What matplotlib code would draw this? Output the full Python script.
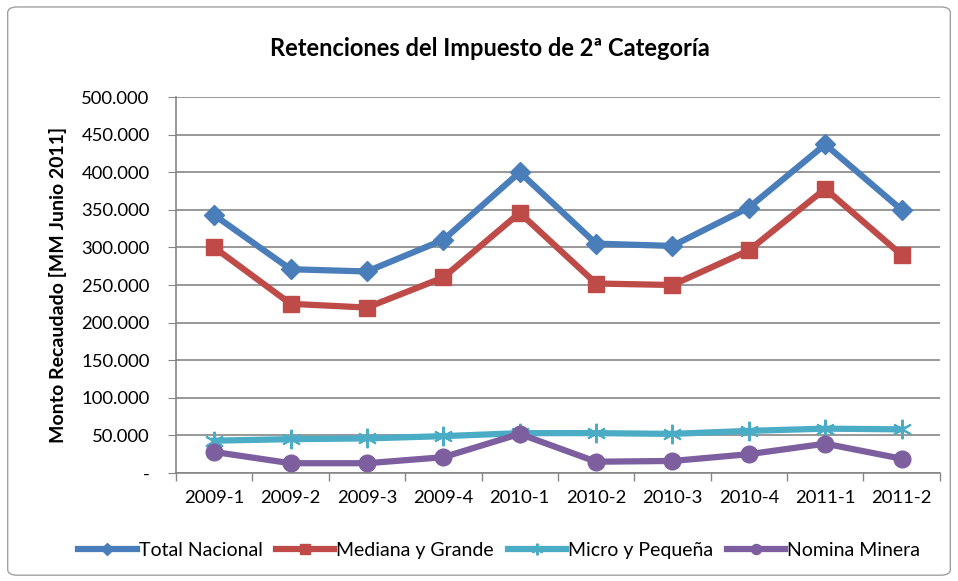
import matplotlib
matplotlib.use("Agg")
import matplotlib.pyplot as plt
from matplotlib.patches import FancyBboxPatch
from matplotlib.ticker import FuncFormatter

categories = ["2009-1", "2009-2", "2009-3", "2009-4", "2010-1", "2010-2", "2010-3", "2010-4", "2011-1", "2011-2"]
total_nacional = [343, 271, 268, 310, 400, 305, 302, 353, 437, 350]
mediana_grande = [300, 225, 220, 260, 346, 252, 250, 296, 378, 290]
micro_pequena = [43, 45, 46, 49, 53, 53, 52, 56, 59, 58]
nomina_minera = [28, 13, 13, 21, 52, 15, 16, 25, 39, 19]

plt.rcParams['font.family'] = ['Lato', 'DejaVu Sans']

fig = plt.figure(figsize=(9.58, 5.81), dpi=100)
fig.patches.append(FancyBboxPatch((0.008, 0.01), 0.984, 0.978, boxstyle="round,pad=0,rounding_size=0.01",
                                  transform=fig.transFigure, fill=False, edgecolor="#A0A0A0", lw=1))
ax = fig.add_axes([0.1837, 0.1859, 0.7973, 0.6471])

x = list(range(len(categories)))
scale = 1000
ax.plot(x, [v * scale for v in total_nacional], color="#4A7EBB", lw=4.5, marker="D", ms=10, label="Total Nacional", zorder=5)
ax.plot(x, [v * scale for v in mediana_grande], color="#BE4B48", lw=4.5, marker="s", ms=12, label="Mediana y Grande", zorder=4)
ax.plot(x, [v * scale for v in micro_pequena], color="#4BACC6", lw=4.5, marker=(6, 2, 0), ms=14, mew=1.5, label="Micro y Pequeña", zorder=3)
ax.plot(x, [v * scale for v in nomina_minera], color="#7D5FA0", lw=4.5, marker="o", ms=12, label="Nomina Minera", zorder=6)

ax.set_xlim(-0.5, len(categories) - 0.5)
ax.set_ylim(0, 500000)
ax.set_yticks(range(0, 500001, 50000))

def fmt(v, pos):
    if v == 0:
        return "-"
    return f"{int(v):,}".replace(",", ".")
ax.yaxis.set_major_formatter(FuncFormatter(fmt))
ax.set_xticks(x)
ax.set_xticklabels(categories)
ax.set_xticks([i + 0.5 for i in range(-1, len(categories))], minor=True)
ax.tick_params(axis="x", which="major", length=0, pad=12, labelsize=13.3)
ax.tick_params(axis="x", which="minor", length=6, color="#868686", width=1)
ax.tick_params(axis="y", length=6, color="#868686", labelsize=13.3, pad=13)

ax.grid(axis="y", color="#868686", lw=1.2)
ax.set_axisbelow(True)
for s in ["top", "right"]:
    ax.spines[s].set_visible(False)
ax.spines["left"].set_color("#868686")
ax.spines["bottom"].set_color("#868686")
ax.spines["left"].set_linewidth(1.2)
ax.spines["bottom"].set_linewidth(1.2)

ax.set_ylabel("Monto Recaudado [MM Junio 2011]", fontsize=14, fontweight="bold", labelpad=10)
fig.text(0.511, 0.917, "Retenciones del Impuesto de 2ª Categoría", ha="center", va="center", fontsize=17, fontweight="bold")

fig.legend(loc="center", bbox_to_anchor=(0.521, 0.053), ncol=4, frameon=False, fontsize=14,
           handlelength=3.0, handletextpad=0.1, columnspacing=0.7, markerscale=0.6)

fig.savefig("out.png", dpi=100)
